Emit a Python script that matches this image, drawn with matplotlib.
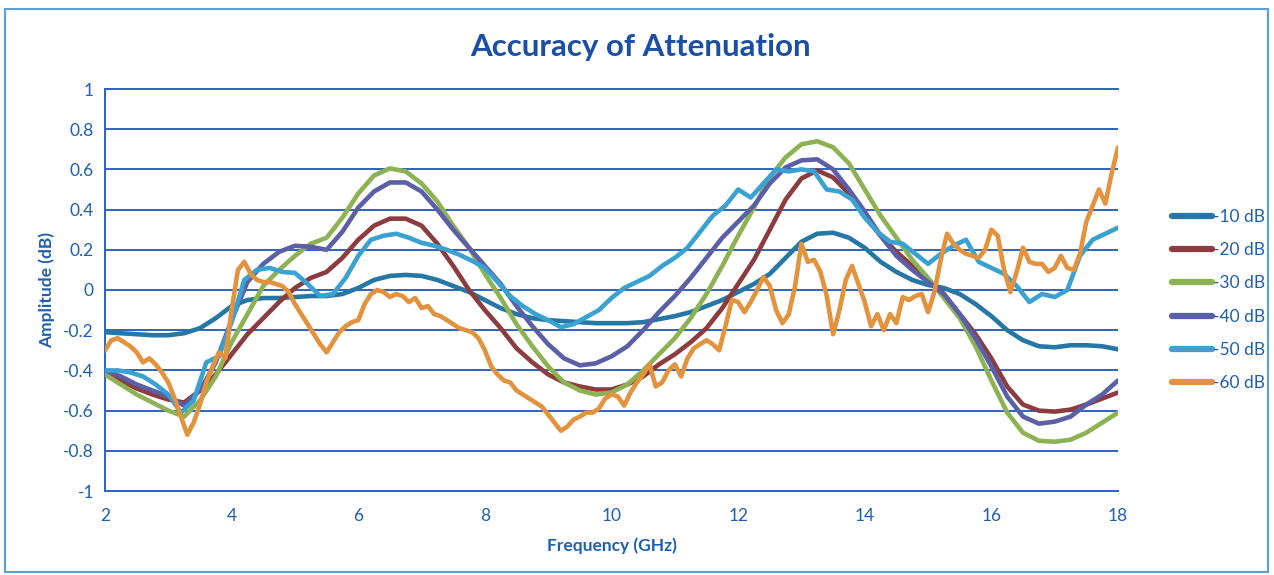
"""Accuracy of attenuation chart"""

import numpy as np
import matplotlib.pyplot as plt
from matplotlib.patches import Rectangle

# Frequency grids (GHz)
freq_smooth = np.arange(2.0, 18.001, 0.25)
freq_50 = np.arange(2.0, 18.001, 0.2)
freq_60 = np.arange(2.0, 18.001, 0.1)

amp_10 = [
    -0.21, -0.215, -0.22, -0.225, -0.225, -0.215, -0.19, -0.14,
    -0.08, -0.05, -0.04, -0.04, -0.035, -0.03, -0.03, -0.02,
    0.01, 0.05, 0.07, 0.075, 0.07, 0.05, 0.02, -0.01,
    -0.05, -0.09, -0.12, -0.14, -0.15, -0.155, -0.16, -0.165,
    -0.165, -0.165, -0.16, -0.145, -0.13, -0.11, -0.08, -0.05,
    -0.01, 0.03, 0.08, 0.16, 0.24, 0.28, 0.285, 0.26,
    0.21, 0.14, 0.09, 0.05, 0.025, 0.01, -0.02, -0.07,
    -0.13, -0.2, -0.25, -0.28, -0.285, -0.275, -0.275, -0.28,
    -0.295,
]

amp_20 = [
    -0.40, -0.45, -0.49, -0.52, -0.545, -0.56, -0.50, -0.42,
    -0.32, -0.22, -0.14, -0.06, 0.01, 0.06, 0.09, 0.16,
    0.25, 0.32, 0.355, 0.355, 0.32, 0.23, 0.12, 0.0,
    -0.1, -0.19, -0.29, -0.36, -0.42, -0.46, -0.48, -0.495,
    -0.495, -0.47, -0.43, -0.37, -0.32, -0.26, -0.19, -0.09,
    0.03, 0.15, 0.30, 0.45, 0.555, 0.595, 0.56, 0.48,
    0.37, 0.27, 0.19, 0.12, 0.05, -0.02, -0.12, -0.22,
    -0.34, -0.48, -0.57, -0.60, -0.605, -0.595, -0.57, -0.54,
    -0.51,
]

amp_30 = [
    -0.42, -0.47, -0.52, -0.56, -0.60, -0.63, -0.55, -0.43,
    -0.26, -0.12, 0.02, 0.10, 0.17, 0.23, 0.26, 0.36,
    0.48, 0.57, 0.605, 0.59, 0.53, 0.44, 0.32, 0.21,
    0.08, -0.04, -0.17, -0.28, -0.38, -0.46, -0.50, -0.52,
    -0.51, -0.47, -0.40, -0.32, -0.24, -0.14, -0.02, 0.12,
    0.27, 0.41, 0.56, 0.66, 0.725, 0.74, 0.71, 0.63,
    0.50, 0.37, 0.26, 0.15, 0.06, -0.04, -0.14, -0.28,
    -0.45, -0.61, -0.71, -0.75, -0.755, -0.745, -0.71, -0.66,
    -0.61,
]

amp_40 = [
    -0.40, -0.43, -0.47, -0.50, -0.53, -0.575, -0.50, -0.36,
    -0.15, 0.04, 0.13, 0.19, 0.22, 0.215, 0.20, 0.29,
    0.41, 0.49, 0.535, 0.535, 0.49, 0.40, 0.30, 0.21,
    0.12, 0.03, -0.08, -0.18, -0.27, -0.34, -0.375, -0.365,
    -0.33, -0.28, -0.2, -0.11, -0.03, 0.06, 0.16, 0.26,
    0.34, 0.42, 0.53, 0.61, 0.645, 0.65, 0.6, 0.5,
    0.39, 0.27, 0.17, 0.1, 0.04, -0.02, -0.12, -0.24,
    -0.38, -0.53, -0.63, -0.665, -0.655, -0.63, -0.57, -0.52,
    -0.45,
]

amp_50 = [
    -0.40, -0.40, -0.41, -0.43, -0.47, -0.52, -0.61, -0.55,
    -0.36, -0.33, -0.16, 0.05, 0.10, 0.11, 0.09, 0.085,
    0.03, -0.03, -0.02, 0.06, 0.17, 0.25, 0.27, 0.28,
    0.26, 0.235, 0.22, 0.2, 0.175, 0.145, 0.11, 0.04,
    -0.03, -0.08, -0.12, -0.15, -0.185, -0.17, -0.135, -0.1,
    -0.04, 0.01, 0.04, 0.07, 0.12, 0.16, 0.21, 0.29,
    0.37, 0.42, 0.50, 0.46, 0.53, 0.60, 0.59, 0.60,
    0.59, 0.50, 0.49, 0.45, 0.36, 0.29, 0.24, 0.23,
    0.18, 0.13, 0.18, 0.22, 0.25, 0.14, 0.11, 0.08,
    0.02, -0.06, -0.02, -0.035, 0.0, 0.17, 0.25, 0.28,
    0.31,
]

amp_60 = [
    -0.30, -0.25, -0.24, -0.26, -0.28, -0.31, -0.36, -0.34, -0.37, -0.41,
    -0.46, -0.54, -0.63, -0.72, -0.66, -0.57, -0.46, -0.38, -0.31, -0.34,
    -0.10, 0.10, 0.14, 0.08, 0.05, 0.04, 0.04, 0.03, 0.02, -0.01,
    -0.07, -0.12, -0.17, -0.22, -0.27, -0.31, -0.26, -0.21, -0.18, -0.16,
    -0.15, -0.07, -0.02, 0.0, -0.01, -0.035, -0.02, -0.03, -0.06, -0.04,
    -0.09, -0.08, -0.12, -0.13, -0.15, -0.17, -0.19, -0.20, -0.21, -0.24,
    -0.30, -0.38, -0.42, -0.45, -0.46, -0.50, -0.52, -0.54, -0.56, -0.58,
    -0.62, -0.66, -0.70, -0.68, -0.645, -0.63, -0.61, -0.61, -0.59, -0.54,
    -0.52, -0.53, -0.575, -0.51, -0.46, -0.42, -0.37, -0.48, -0.46, -0.40,
    -0.37, -0.43, -0.34, -0.29, -0.27, -0.25, -0.27, -0.30, -0.18, -0.05,
    -0.06, -0.11, -0.06, 0.0, 0.065, 0.02, -0.10, -0.165, -0.12, 0.02,
    0.23, 0.14, 0.15, 0.09, -0.03, -0.22, -0.10, 0.05, 0.12, 0.03,
    -0.06, -0.18, -0.12, -0.20, -0.12, -0.165, -0.035, -0.05, -0.03, -0.02,
    -0.11, -0.01, 0.15, 0.28, 0.23, 0.20, 0.18, 0.17, 0.16, 0.20,
    0.30, 0.27, 0.10, -0.01, 0.09, 0.21, 0.14, 0.13, 0.13, 0.09,
    0.11, 0.17, 0.11, 0.10, 0.18, 0.34, 0.42, 0.50, 0.43, 0.58,
    0.71,
]

labels = ['-10 dB', '-20 dB', '-30 dB', '-40 dB', '-50 dB', '-60 dB']
colors = ['#2578a6', '#8c3b3e', '#8db253', '#5a5fa8', '#3aa2d2', '#e3923d']
y_ticks = [-1, -0.8, -0.6, -0.4, -0.2, 0, 0.2, 0.4, 0.6, 0.8, 1]
y_tick_labels = ['-1', '-0.8', '-0.6', '-0.4', '-0.2', '0', '0.2', '0.4', '0.6', '0.8', '1']
x_ticks = [2, 4, 6, 8, 10, 12, 14, 16, 18]

TEXT_BLUE = '#1f5fb0'
GRID_BLUE = '#2f62c0'


def make_chart(output_path):
    plt.rcParams['font.family'] = ['Lato', 'DejaVu Sans']

    fig = plt.figure(figsize=(12.74, 5.75), dpi=100)
    fig.patches.append(Rectangle((0.004, 0.006), 0.991, 0.978, transform=fig.transFigure,
                                 fill=False, edgecolor='#5a9fd6', linewidth=1.5))

    ax = fig.add_axes([105 / 1274, 1 - 491 / 575, 1013 / 1274, 402 / 575])

    series = [
        (freq_smooth, amp_10), (freq_smooth, amp_20), (freq_smooth, amp_30),
        (freq_smooth, amp_40), (freq_50, amp_50), (freq_60, amp_60),
    ]
    for (x, y), label, color in zip(series, labels, colors):
        ax.plot(x, y, color=color, linewidth=3.3, label=label,
                solid_capstyle='round', solid_joinstyle='round', zorder=3)

    ax.set_xlim(2, 18)
    ax.set_ylim(-1, 1)
    ax.set_xticks(x_ticks)
    ax.set_yticks(y_ticks)
    ax.set_yticklabels(y_tick_labels)
    ax.tick_params(length=0, labelsize=12.5, labelcolor=TEXT_BLUE, pad=8)
    ax.tick_params(axis='x', pad=12)

    # horizontal gridlines incl. top and bottom
    ax.grid(True, axis='y', color=GRID_BLUE, linewidth=1.4, zorder=1)
    ax.grid(False, axis='x')
    for side in ['top', 'right', 'bottom']:
        ax.spines[side].set_visible(False)
    ax.spines['left'].set_color(GRID_BLUE)
    ax.spines['left'].set_linewidth(1.4)
    ax.axhline(-1, color=GRID_BLUE, linewidth=1.4, clip_on=False, zorder=1)
    ax.axhline(1, color=GRID_BLUE, linewidth=1.4, clip_on=False, zorder=1)

    fig.text(0.503, 1 - 47 / 575, 'Accuracy of Attenuation', ha='center', va='center',
             fontsize=22.5, fontweight='bold', color='#1a4fa8')
    ax.set_xlabel('Frequency (GHz)', fontsize=12.5, fontweight='bold', color=TEXT_BLUE, labelpad=10)
    ax.set_ylabel('Amplitude (dB)', fontsize=12.5, fontweight='bold', color=TEXT_BLUE, labelpad=6)

    leg = fig.legend(loc='upper left', bbox_to_anchor=(1156 / 1274, 1 - 193 / 575),
                     frameon=False, fontsize=12.5, labelcolor=TEXT_BLUE,
                     handlelength=2.3, handletextpad=0.1, labelspacing=1.0)
    for line in leg.get_lines():
        line.set_linewidth(4.5)

    plt.savefig(output_path, dpi=100)
    plt.close()


def main():
    make_chart('out.png')


if __name__ == "__main__":
    main()
